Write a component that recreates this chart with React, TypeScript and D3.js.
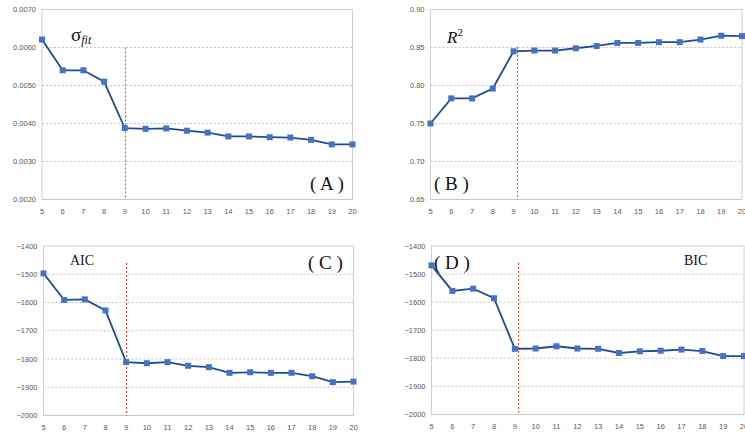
import React from "react";
import * as d3 from "d3";

// number of components
const components = [5, 6, 7, 8, 9, 10, 11, 12, 13, 14, 15, 16, 17, 18, 19, 20];

const sigmaFit = [0.00621, 0.0054, 0.0054, 0.0051, 0.00388, 0.00386, 0.00387, 0.00381, 0.00376, 0.00366, 0.00366, 0.00364, 0.00363, 0.00357, 0.00345, 0.00345];
const rSquared = [0.75, 0.783, 0.783, 0.796, 0.845, 0.846, 0.846, 0.849, 0.852, 0.856, 0.856, 0.857, 0.857, 0.8605, 0.8655, 0.865];
const aic = [-1497, -1591, -1589, -1628, -1811, -1815, -1811, -1824, -1829, -1849, -1847, -1849, -1849, -1861, -1882, -1880];
const bic = [-1469, -1560, -1552, -1586, -1766, -1765, -1757, -1765, -1766, -1781, -1775, -1773, -1769, -1774, -1792, -1792];

const sigmaTicks = [0.002, 0.003, 0.004, 0.005, 0.006, 0.007];
const rTicks = [0.65, 0.7, 0.75, 0.8, 0.85, 0.9];
const icTicks = [-2000, -1900, -1800, -1700, -1600, -1500, -1400];

type Panel = {
  key: string;
  box: { l: number; t: number; r: number; b: number };
  values: number[];
  ticks: number[];
  fmt: (v: number) => string;
  vlineX: number; // red marker at the chosen model (drawn a bit off in B and D)
  vlineTop: number;
};

const panels: Panel[] = [
  { key: "A", box: { l: 42, t: 9.5, r: 352.5, b: 199.5 }, values: sigmaFit, ticks: sigmaTicks, fmt: d3.format(".4f"), vlineX: 9, vlineTop: 0.006 },
  { key: "B", box: { l: 430.5, t: 9.5, r: 742, b: 199.5 }, values: rSquared, ticks: rTicks, fmt: d3.format(".2f"), vlineX: 9.18, vlineTop: 0.851 },
  { key: "C", box: { l: 43.5, t: 246, r: 353.5, b: 415.5 }, values: aic, ticks: icTicks, fmt: d3.format("d"), vlineX: 9, vlineTop: -1460 },
  { key: "D", box: { l: 431.5, t: 246, r: 744, b: 414.5 }, values: bic, ticks: icTicks, fmt: d3.format("d"), vlineX: 9.16, vlineTop: -1460 },
];

const tickFont = "'Liberation Sans', Arial, sans-serif";
const serif = "'Liberation Serif', 'Times New Roman', serif";

function ChartPanel({ p }: { p: Panel }) {
  const { l, t, r, b } = p.box;
  const x = d3.scaleLinear().domain([components[0], components[components.length - 1]]).range([l, r]);
  const y = d3.scaleLinear().domain(d3.extent(p.ticks) as [number, number]).range([b, t]);
  const line = d3
    .line<number>()
    .x((_, i) => x(components[i]))
    .y((d) => y(d));
  const vx = Math.round(x(p.vlineX)) + 0.5;

  return (
    <g>
      {p.ticks.slice(1, -1).map((tk) => (
        <line key={tk} x1={l} x2={r} y1={y(tk)} y2={y(tk)} stroke="#b5b5b5" strokeWidth={0.8} strokeDasharray="2,2" />
      ))}
      <rect x={l} y={t} width={r - l} height={b - t} fill="none" stroke="#d0d0d0" strokeWidth={1} />
      <line x1={l} x2={r} y1={b} y2={b} stroke="#c8c8c8" strokeWidth={1} />
      {p.ticks.map((tk) => (
        <text key={tk} x={l - 6} y={y(tk)} dy="0.35em" textAnchor="end" fontSize={7.5} fontFamily={tickFont} fill="#595959">
          {p.fmt(tk)}
        </text>
      ))}
      {components.map((c) => (
        <text key={c} x={x(c)} y={b + 14} textAnchor="middle" fontSize={7.5} fontFamily={tickFont} fill="#595959">
          {c}
        </text>
      ))}
      <line x1={vx} x2={vx} y1={y(p.vlineTop)} y2={b} stroke="#ff3b30" strokeWidth={1} strokeDasharray="2,2" />
      <path d={line(p.values) || ""} fill="none" stroke="#1f4e8c" strokeWidth={1.8} />
      {p.values.map((v, i) => (
        <rect key={i} x={x(components[i]) - 3} y={y(v) - 3} width={6} height={6} fill="#4472c4" />
      ))}
    </g>
  );
}

export default function App() {
  return (
    <svg width={745} height={432} style={{ position: "absolute", left: 0, top: 0, background: "#fff" }}>
      {panels.map((p) => (
        <ChartPanel key={p.key} p={p} />
      ))}
      {/* panel titles */}
      <text x={71} y={41} fontFamily={serif} fontSize={19} fill="#111">
        σ<tspan fontSize={12} fontStyle="italic" dy={3}>fit</tspan>
      </text>
      <text x={447} y={43} fontFamily={serif} fontSize={17} fontStyle="italic" fill="#111">
        R<tspan fontSize={11} fontStyle="normal" dy={-7}>2</tspan>
      </text>
      <text x={70} y={265} fontFamily={serif} fontSize={14} fill="#111">AIC</text>
      <text x={684} y={265} fontFamily={serif} fontSize={14} fill="#111">BIC</text>
      <text x={310} y={190} fontFamily={serif} fontSize={19} fill="#111">( A )</text>
      <text x={434} y={190} fontFamily={serif} fontSize={19} fill="#111">( B )</text>
      <text x={308} y={269} fontFamily={serif} fontSize={19} fill="#111">( C )</text>
      <text x={434} y={269} fontFamily={serif} fontSize={19} fill="#111">( D )</text>
    </svg>
  );
}
